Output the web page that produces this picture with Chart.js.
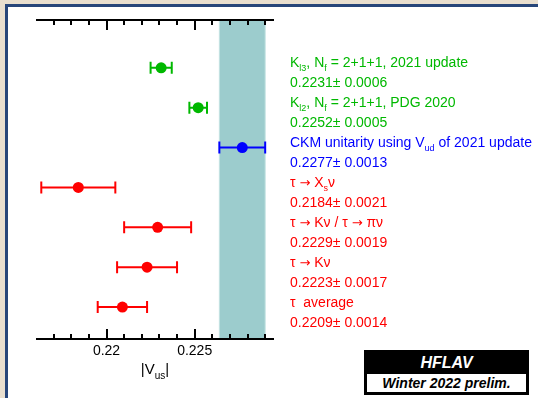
<!DOCTYPE html>
<html>
<head>
<meta charset="utf-8">
<script src="https://cdn.jsdelivr.net/npm/chart.js@4"></script>
<style>
  body { margin: 0; width: 538px; height: 398px; overflow: hidden; background: #e9dfcf; font-family: "Liberation Sans", Arial, sans-serif; }
  #panel { position: absolute; left: 5px; top: 4px; right: 0; bottom: 0; background: #fff; border-left: 3px solid #27467a; border-top: 3px solid #27467a; }
  #wrap { position: absolute; left: 0; top: 0; width: 538px; height: 398px; }
  #labels { position: absolute; left: 290px; top: 52px; font-size: 14px; white-space: nowrap; }
  #labels div { height: 20px; line-height: 20px; overflow: visible; }
  #labels sub { font-size: 9px; vertical-align: -4px; line-height: 0; }
  #labels .ar { font-family: "DejaVu Sans", sans-serif; font-size: 13px; line-height: 0; }
  #xtitle { position: absolute; left: 0; width: 310px; top: 360px; text-align: center; font-size: 15px; }
  #xtitle sub { font-size: 10px; vertical-align: -5px; line-height: 0; }
  #hflav { position: absolute; left: 364px; top: 350px; width: 161px; border: 2px solid #000; font-weight: bold; font-style: italic; text-align: center; }
  #hflav .a { background: #000; color: #fff; font-size: 16px; height: 21px; line-height: 21px; }
  #hflav .b { background: #fff; color: #000; font-size: 14px; height: 18px; line-height: 18px; border: 1px solid #000; }
</style>
</head>
<body>
<div id="panel"></div>
<div id="wrap"><canvas id="myChart" width="538" height="398"></canvas></div>
<div id="labels">
  <div style="color:#00b800">K<sub>l3</sub>, N<sub>f</sub> = 2+1+1, 2021 update</div>
  <div style="color:#00b800">0.2231&plusmn; 0.0006</div>
  <div style="color:#00b800">K<sub>l2</sub>, N<sub>f</sub> = 2+1+1, PDG 2020</div>
  <div style="color:#00b800">0.2252&plusmn; 0.0005</div>
  <div style="color:#0000ff">CKM unitarity using V<sub>ud</sub> of 2021 update</div>
  <div style="color:#0000ff">0.2277&plusmn; 0.0013</div>
  <div style="color:#ff0000">&tau; <span class="ar">&rarr;</span> X<sub>s</sub>&nu;</div>
  <div style="color:#ff0000">0.2184&plusmn; 0.0021</div>
  <div style="color:#ff0000">&tau; <span class="ar">&rarr;</span> K&nu; / &tau; <span class="ar">&rarr;</span> &pi;&nu;</div>
  <div style="color:#ff0000">0.2229&plusmn; 0.0019</div>
  <div style="color:#ff0000">&tau; <span class="ar">&rarr;</span> K&nu;</div>
  <div style="color:#ff0000">0.2223&plusmn; 0.0017</div>
  <div style="color:#ff0000">&tau;&nbsp; average</div>
  <div style="color:#ff0000">0.2209&plusmn; 0.0014</div>
</div>
<div id="xtitle">|V<sub>us</sub>|</div>
<div id="hflav"><div class="a">HFLAV</div><div class="b">Winter 2022 prelim.</div></div>
<script>
const categories = ['Kl3 2021', 'Kl2 PDG 2020', 'CKM unitarity', 'tau Xs nu', 'tau Knu/pinu', 'tau Knu', 'tau average'];
const values = [0.2231, 0.2252, 0.2277, 0.2184, 0.2229, 0.2223, 0.2209];
const errors = [0.0006, 0.0005, 0.0013, 0.0021, 0.0019, 0.0017, 0.0014];
const colors = ['#00b800', '#00b800', '#0000ff', '#ff0000', '#ff0000', '#ff0000', '#ff0000'];
const band = [0.2264, 0.2290];
const tickLabels = [0.22, 0.225];

// error bars, unitarity band and the two frame axes
const hfPlugin = {
  id: 'hf',
  beforeDatasetsDraw(chart) {
    const ctx = chart.ctx, x = chart.scales.x, a = chart.chartArea;
    ctx.save();
    ctx.fillStyle = '#9ccccd';
    const x0 = x.getPixelForValue(band[0]), x1 = x.getPixelForValue(band[1]);
    ctx.fillRect(x0, a.top, x1 - x0, a.bottom - a.top);
    ctx.strokeStyle = '#c4e2e2';
    ctx.lineWidth = 1;
    ctx.strokeRect(x0, a.top, x1 - x0, a.bottom - a.top);

    ctx.lineWidth = 2;
    values.forEach((v, i) => {
      const y = chart.scales.y.getPixelForValue(i);
      const l = x.getPixelForValue(v - errors[i]), r = x.getPixelForValue(v + errors[i]);
      ctx.strokeStyle = colors[i];
      ctx.beginPath();
      ctx.moveTo(l, y); ctx.lineTo(r, y);
      ctx.moveTo(l, y - 6); ctx.lineTo(l, y + 6);
      ctx.moveTo(r, y - 6); ctx.lineTo(r, y + 6);
      ctx.stroke();
    });
    ctx.restore();
  },
  afterDatasetsDraw(chart) {
    const ctx = chart.ctx, x = chart.scales.x, a = chart.chartArea;
    ctx.save();
    ctx.strokeStyle = '#000';
    ctx.lineWidth = 2;
    ctx.beginPath();
    ctx.moveTo(a.left, a.top); ctx.lineTo(a.right, a.top);
    ctx.moveTo(a.left, a.bottom); ctx.lineTo(a.right, a.bottom);
    for (let k = 217; k <= 229; k++) {
      const v = k / 1000;
      const px = Math.round(x.getPixelForValue(v));
      const len = (k % 5 === 0) ? 10 : 5;
      ctx.moveTo(px, a.top); ctx.lineTo(px, a.top + len);
      ctx.moveTo(px, a.bottom); ctx.lineTo(px, a.bottom - len);
    }
    ctx.stroke();
    ctx.restore();
  }
};

const ctxScatter = document.getElementById('myChart').getContext('2d');
new Chart(ctxScatter, {
  type: 'scatter',
  data: {
    labels: categories,
    datasets: [{
      data: values.map((v, i) => ({ x: v, y: i })),
      pointBackgroundColor: colors,
      pointBorderWidth: 0,
      pointRadius: 5.5
    }]
  },
  options: {
    responsive: false,
    animation: false,
    layout: { padding: { left: 36, right: 264, top: 20, bottom: 0 } },
    plugins: { legend: { display: false }, tooltip: { enabled: false } },
    scales: {
      x: {
        type: 'linear',
        min: 0.216,
        max: 0.2295,
        afterFit: s => { s.height = 59; },
        afterBuildTicks: s => { s.ticks = tickLabels.map(v => ({ value: v })); },
        grid: { display: false, drawTicks: false },
        border: { display: false },
        ticks: {
          padding: 4,
          color: '#000',
          font: { family: '"Liberation Sans", Arial, sans-serif', size: 14 },
          callback: v => String(v)
        }
      },
      y: {
        type: 'linear',
        min: -1.2,
        max: 6.8,
        reverse: true,
        display: false
      }
    }
  },
  plugins: [hfPlugin]
});
</script>
</body>
</html>
